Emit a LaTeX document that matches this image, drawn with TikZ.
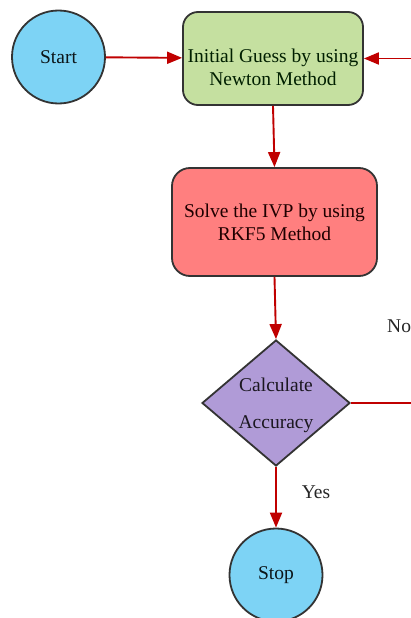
\documentclass[tikz,border=0pt]{standalone}
\usepackage{fontspec}
\setmainfont{Liberation Serif}
\usetikzlibrary{arrows.meta,shapes.geometric}
\definecolor{cblue}{HTML}{7DD3F5}
\definecolor{cgreen}{HTML}{C5E0A0}
\definecolor{cred}{HTML}{FF7F7F}
\definecolor{cpurple}{HTML}{B09BD7}
\definecolor{carrow}{HTML}{C00000}
\definecolor{cedge}{HTML}{333333}
\tikzset{
  x=1pt, y=-1pt,
  every node/.style={font=\fontsize{19.5}{23}\selectfont},
  circ/.style={circle, draw=cedge, line width=1.8pt, fill=cblue, minimum size=93pt, inner sep=0pt, text=black!90!cblue},
  gbox/.style={rectangle, rounded corners=15pt, draw=cedge, line width=1.8pt, fill=cgreen, minimum width=180pt, minimum height=93pt},
  rbox/.style={rectangle, rounded corners=18pt, draw=cedge, line width=1.8pt, fill=cred, minimum width=205pt, minimum height=108pt, align=center, text=black!88!red},
  dia/.style={diamond, draw=cedge, line width=1.8pt, fill=cpurple, minimum width=148pt, minimum height=126pt, inner sep=0pt},
  txt/.style={align=center, inner sep=0pt},
  conn/.style={draw=carrow, line width=1.9pt},
  arr/.style={conn, -{Triangle[length=15pt,width=12pt]}},
  lbl/.style={inner sep=0pt, text=black!85}
}
\begin{document}
\begin{tikzpicture}
\useasboundingbox (0,0) rectangle (411,618);
\clip (0,0) rectangle (411,618);
\fill[white] (0,0) rectangle (411,618);
\node[circ] (start) at (58.5,57) {Start};
\node[gbox] (guess) at (273,58.5) {};
\node[txt, text=black!88!green] (guesstxt) at (273,67) {Initial Guess by using\\Newton Method};
\node[rbox] (solve) at (274.5,222) {Solve the IVP by using\\RKF5 Method};
\node[dia] (acc) at (276,403) {};
\node[txt, text=black!85!cpurple] (acc1) at (276,385) {Calculate};
\node[txt, text=black!85!cpurple] (acc2) at (276,424) {Accuracy};
\node[circ] (stop) at (276,575) {Stop};
\coordinate (r1) at (440,403);
\coordinate (r2) at (440,58.5);
\node[lbl, anchor=west] (no) at (387,326) {No};
\node[lbl] (yes) at (316,492) {Yes};
\draw[arr] (start) -- (guess);
\draw[arr] (guess.south) -- (solve.north);
\draw[arr] (solve.south) -- (acc.north);
\draw[arr] (acc.south) -- (stop.north);
\draw[arr] (acc.east) -- (r1) -- (r2) -- (guess.east);
\end{tikzpicture}
\end{document}
